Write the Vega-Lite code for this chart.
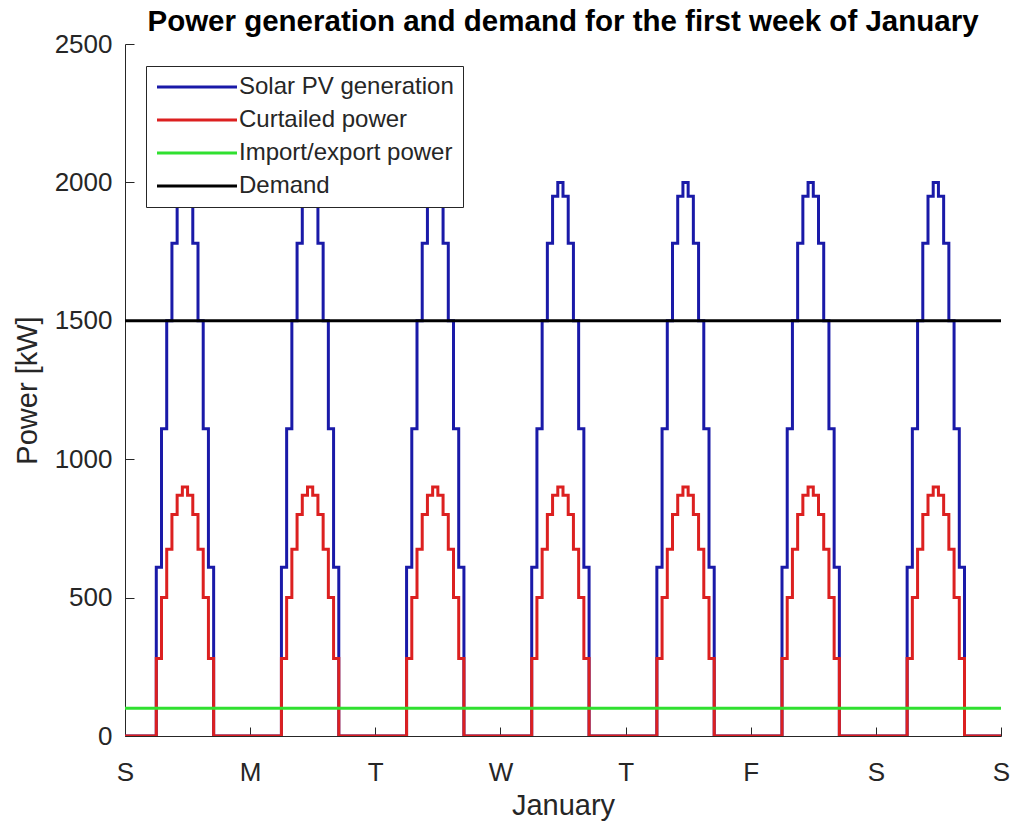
{
  "$schema": "https://vega.github.io/schema/vega-lite/v6.json",
  "width": 876,
  "height": 692,
  "autosize": {"type": "none"},
  "padding": {"left": 125, "top": 44, "right": 15, "bottom": 87},
  "background": "white",
  "title": {"text": "Power generation and demand for the first week of January", "fontSize": 29.5, "fontWeight": "bold", "color": "#000000", "anchor": "middle", "offset": -6},
  "config": {
    "font": "Liberation Sans",
    "view": {"stroke": null},
    "axis": {"grid": false, "domainColor": "#262626", "tickColor": "#262626", "labelColor": "#262626", "titleColor": "#262626", "labelFontSize": 26, "titleFontSize": 29, "titleFontWeight": "normal", "tickSize": -9, "domainWidth": 1, "tickWidth": 1}
  },
  "data": {"values": [
    {"h":0,"pv":0,"cu":0,"ie":100,"dm":1500},
    {"h":6,"pv":610,"cu":280,"ie":100,"dm":1500},
    {"h":7,"pv":1110,"cu":500,"ie":100,"dm":1500},
    {"h":8,"pv":1500,"cu":675,"ie":100,"dm":1500},
    {"h":9,"pv":1780,"cu":800,"ie":100,"dm":1500},
    {"h":10,"pv":1950,"cu":870,"ie":100,"dm":1500},
    {"h":11,"pv":2000,"cu":900,"ie":100,"dm":1500},
    {"h":12,"pv":1950,"cu":870,"ie":100,"dm":1500},
    {"h":13,"pv":1780,"cu":800,"ie":100,"dm":1500},
    {"h":14,"pv":1500,"cu":675,"ie":100,"dm":1500},
    {"h":15,"pv":1110,"cu":500,"ie":100,"dm":1500},
    {"h":16,"pv":610,"cu":280,"ie":100,"dm":1500},
    {"h":17,"pv":0,"cu":0,"ie":100,"dm":1500},
    {"h":30,"pv":610,"cu":280,"ie":100,"dm":1500},
    {"h":31,"pv":1110,"cu":500,"ie":100,"dm":1500},
    {"h":32,"pv":1500,"cu":675,"ie":100,"dm":1500},
    {"h":33,"pv":1780,"cu":800,"ie":100,"dm":1500},
    {"h":34,"pv":1950,"cu":870,"ie":100,"dm":1500},
    {"h":35,"pv":2000,"cu":900,"ie":100,"dm":1500},
    {"h":36,"pv":1950,"cu":870,"ie":100,"dm":1500},
    {"h":37,"pv":1780,"cu":800,"ie":100,"dm":1500},
    {"h":38,"pv":1500,"cu":675,"ie":100,"dm":1500},
    {"h":39,"pv":1110,"cu":500,"ie":100,"dm":1500},
    {"h":40,"pv":610,"cu":280,"ie":100,"dm":1500},
    {"h":41,"pv":0,"cu":0,"ie":100,"dm":1500},
    {"h":54,"pv":610,"cu":280,"ie":100,"dm":1500},
    {"h":55,"pv":1110,"cu":500,"ie":100,"dm":1500},
    {"h":56,"pv":1500,"cu":675,"ie":100,"dm":1500},
    {"h":57,"pv":1780,"cu":800,"ie":100,"dm":1500},
    {"h":58,"pv":1950,"cu":870,"ie":100,"dm":1500},
    {"h":59,"pv":2000,"cu":900,"ie":100,"dm":1500},
    {"h":60,"pv":1950,"cu":870,"ie":100,"dm":1500},
    {"h":61,"pv":1780,"cu":800,"ie":100,"dm":1500},
    {"h":62,"pv":1500,"cu":675,"ie":100,"dm":1500},
    {"h":63,"pv":1110,"cu":500,"ie":100,"dm":1500},
    {"h":64,"pv":610,"cu":280,"ie":100,"dm":1500},
    {"h":65,"pv":0,"cu":0,"ie":100,"dm":1500},
    {"h":78,"pv":610,"cu":280,"ie":100,"dm":1500},
    {"h":79,"pv":1110,"cu":500,"ie":100,"dm":1500},
    {"h":80,"pv":1500,"cu":675,"ie":100,"dm":1500},
    {"h":81,"pv":1780,"cu":800,"ie":100,"dm":1500},
    {"h":82,"pv":1950,"cu":870,"ie":100,"dm":1500},
    {"h":83,"pv":2000,"cu":900,"ie":100,"dm":1500},
    {"h":84,"pv":1950,"cu":870,"ie":100,"dm":1500},
    {"h":85,"pv":1780,"cu":800,"ie":100,"dm":1500},
    {"h":86,"pv":1500,"cu":675,"ie":100,"dm":1500},
    {"h":87,"pv":1110,"cu":500,"ie":100,"dm":1500},
    {"h":88,"pv":610,"cu":280,"ie":100,"dm":1500},
    {"h":89,"pv":0,"cu":0,"ie":100,"dm":1500},
    {"h":102,"pv":610,"cu":280,"ie":100,"dm":1500},
    {"h":103,"pv":1110,"cu":500,"ie":100,"dm":1500},
    {"h":104,"pv":1500,"cu":675,"ie":100,"dm":1500},
    {"h":105,"pv":1780,"cu":800,"ie":100,"dm":1500},
    {"h":106,"pv":1950,"cu":870,"ie":100,"dm":1500},
    {"h":107,"pv":2000,"cu":900,"ie":100,"dm":1500},
    {"h":108,"pv":1950,"cu":870,"ie":100,"dm":1500},
    {"h":109,"pv":1780,"cu":800,"ie":100,"dm":1500},
    {"h":110,"pv":1500,"cu":675,"ie":100,"dm":1500},
    {"h":111,"pv":1110,"cu":500,"ie":100,"dm":1500},
    {"h":112,"pv":610,"cu":280,"ie":100,"dm":1500},
    {"h":113,"pv":0,"cu":0,"ie":100,"dm":1500},
    {"h":126,"pv":610,"cu":280,"ie":100,"dm":1500},
    {"h":127,"pv":1110,"cu":500,"ie":100,"dm":1500},
    {"h":128,"pv":1500,"cu":675,"ie":100,"dm":1500},
    {"h":129,"pv":1780,"cu":800,"ie":100,"dm":1500},
    {"h":130,"pv":1950,"cu":870,"ie":100,"dm":1500},
    {"h":131,"pv":2000,"cu":900,"ie":100,"dm":1500},
    {"h":132,"pv":1950,"cu":870,"ie":100,"dm":1500},
    {"h":133,"pv":1780,"cu":800,"ie":100,"dm":1500},
    {"h":134,"pv":1500,"cu":675,"ie":100,"dm":1500},
    {"h":135,"pv":1110,"cu":500,"ie":100,"dm":1500},
    {"h":136,"pv":610,"cu":280,"ie":100,"dm":1500},
    {"h":137,"pv":0,"cu":0,"ie":100,"dm":1500},
    {"h":150,"pv":610,"cu":280,"ie":100,"dm":1500},
    {"h":151,"pv":1110,"cu":500,"ie":100,"dm":1500},
    {"h":152,"pv":1500,"cu":675,"ie":100,"dm":1500},
    {"h":153,"pv":1780,"cu":800,"ie":100,"dm":1500},
    {"h":154,"pv":1950,"cu":870,"ie":100,"dm":1500},
    {"h":155,"pv":2000,"cu":900,"ie":100,"dm":1500},
    {"h":156,"pv":1950,"cu":870,"ie":100,"dm":1500},
    {"h":157,"pv":1780,"cu":800,"ie":100,"dm":1500},
    {"h":158,"pv":1500,"cu":675,"ie":100,"dm":1500},
    {"h":159,"pv":1110,"cu":500,"ie":100,"dm":1500},
    {"h":160,"pv":610,"cu":280,"ie":100,"dm":1500},
    {"h":161,"pv":0,"cu":0,"ie":100,"dm":1500},
    {"h":168,"pv":0,"cu":0,"ie":100,"dm":1500}
  ]},
  "transform": [{"fold": ["pv", "cu", "ie", "dm"], "as": ["series", "power"]}],
  "mark": {"type": "line", "interpolate": "step-after", "strokeWidth": 3, "clip": true},
  "encoding": {
    "x": {"field": "h", "type": "quantitative", "scale": {"domain": [0, 168], "nice": false, "zero": false},
      "axis": {"title": "January", "values": [0, 24, 48, 72, 96, 120, 144, 168], "labelExpr": "['S','M','T','W','T','F','S','S'][round(datum.value/24)]", "labelPadding": 32, "titlePadding": 6, "labelFlush": false}},
    "y": {"field": "power", "type": "quantitative", "scale": {"domain": [0, 2500], "nice": false},
      "axis": {"title": "Power [kW]", "format": "d", "values": [0, 500, 1000, 1500, 2000, 2500], "labelPadding": 22, "titlePadding": 12}},
    "color": {"field": "series", "type": "nominal", "sort": ["pv", "cu", "ie", "dm"],
      "scale": {"domain": ["pv", "cu", "ie", "dm"], "range": ["#1a1aa8", "#dc2020", "#30e030", "#000000"]},
      "legend": {"title": null, "orient": "none", "legendX": 21, "legendY": 22,
        "labelExpr": "{'pv':'Solar PV generation','cu':'Curtailed power','ie':'Import/export power','dm':'Demand'}[datum.value]",
        "labelFontSize": 24, "labelLimit": 500, "labelColor": "#262626", "symbolType": "M-4,0H4", "symbolSize": 400, "symbolStrokeWidth": 3,
        "symbolOffset": 30, "labelOffset": 30, "rowPadding": 9, "padding": 9, "fillColor": "white", "strokeColor": "#262626"}}
  }
}
